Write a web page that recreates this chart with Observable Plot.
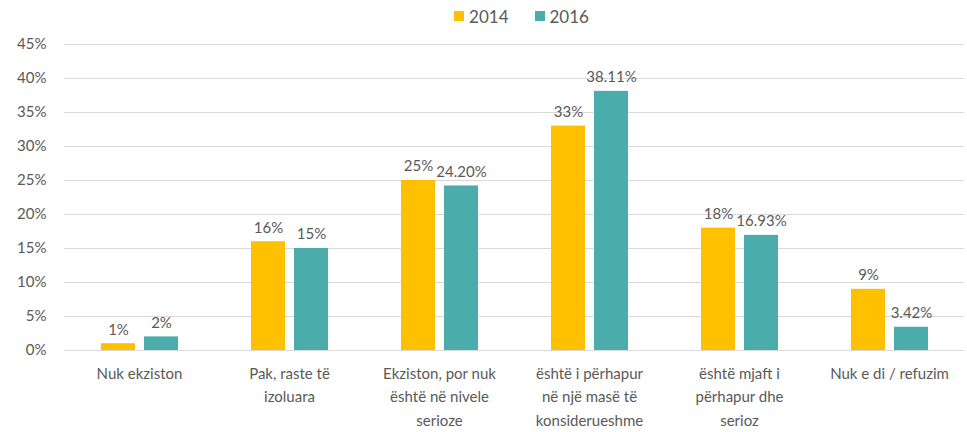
<!DOCTYPE html>
<html>
<head>
<meta charset="utf-8">
<script src="https://cdn.jsdelivr.net/npm/d3@7"></script>
<script src="https://cdn.jsdelivr.net/npm/@observablehq/plot@0.6"></script>
<style>
  html, body { margin: 0; padding: 0; background: #fff; }
  body { width: 967px; height: 432px; overflow: hidden; font-family: Lato, "Open Sans", sans-serif; }
  #legend { height: 32px; display: flex; justify-content: center; align-items: center; gap: 26px; font-size: 17px; color: #595959; padding-left: 76px; box-sizing: border-box; }
  #legend .item { display: flex; align-items: center; gap: 5px; }
  #legend .sw { width: 10px; height: 10px; display: inline-block; }
</style>
</head>
<body>
<div id="legend"></div>
<div id="chart"></div>
<script>
const categories = ["Nuk ekziston", "Pak, raste të izoluara", "Ekziston, por nuk është në nivele serioze", "është i përhapur në një masë të konsiderueshme", "është mjaft i përhapur dhe serioz", "Nuk e di / refuzim"];
const categoryLabels = ["Nuk ekziston", "Pak, raste të\nizoluara", "Ekziston, por nuk\nështë në nivele\nserioze", "është i përhapur\nnë një masë të\nkonsiderueshme", "është mjaft i\npërhapur dhe\nserioz", "Nuk e di / refuzim"];
const series = ["2014", "2016"];
const values2014 = [1, 16, 25, 33, 18, 9];
const values2016 = [2, 15, 24.2, 38.11, 16.93, 3.42];
const labels2014 = ["1%", "16%", "25%", "33%", "18%", "9%"];
const labels2016 = ["2%", "15%", "24.20%", "38.11%", "16.93%", "3.42%"];
const yTicks = [0, 5, 10, 15, 20, 25, 30, 35, 40, 45];
const colors = ["#FFC000", "#4BACAC"];

const data = [];
categories.forEach((c, i) => {
  data.push({category: c, year: "2014", value: values2014[i], label: labels2014[i]});
  data.push({category: c, year: "2016", value: values2016[i], label: labels2016[i]});
});

const legend = document.getElementById("legend");
series.forEach((s, i) => {
  const it = document.createElement("span");
  it.className = "item";
  it.innerHTML = `<span class="sw" style="background:${colors[i]}"></span><span>${s}</span>`;
  legend.appendChild(it);
});

const labelMap = new Map(categories.map((c, i) => [c, categoryLabels[i]]));

const chart = Plot.plot({
  width: 967,
  height: 400,
  marginLeft: 62,
  marginRight: 2,
  marginTop: 12,
  marginBottom: 82,
  style: {fontFamily: "Lato, 'Open Sans', sans-serif", color: "#595959", background: "#fff"},
  fx: {domain: categories, padding: 0, label: null, axis: null},
  x: {domain: series, paddingInner: 0.22, paddingOuter: 0.84, axis: null},
  y: {domain: [0, 45], label: null},
  color: {domain: series, range: colors},
  marks: [
    Plot.gridY(yTicks, {stroke: "#d9d9d9", strokeOpacity: 1, strokeWidth: 1}),
    Plot.axisY(yTicks, {tickSize: 0, tickPadding: 18, tickFormat: d => d + "%", fontSize: 15, fill: "#595959", label: null}),
    Plot.axisFx({anchor: "bottom", tickSize: 0, tickPadding: 12, tickFormat: d => labelMap.get(d), fontSize: 15, fill: "#595959", lineHeight: 1.55, label: null}),
    Plot.barY(data, {fx: "category", x: "year", y: "value", fill: "year"}),
    Plot.text(data, {fx: "category", x: "year", y: "value", text: "label", dy: -14, fontSize: 15, fill: "#595959"})
  ]
});
document.getElementById("chart").appendChild(chart);
</script>
</body>
</html>
